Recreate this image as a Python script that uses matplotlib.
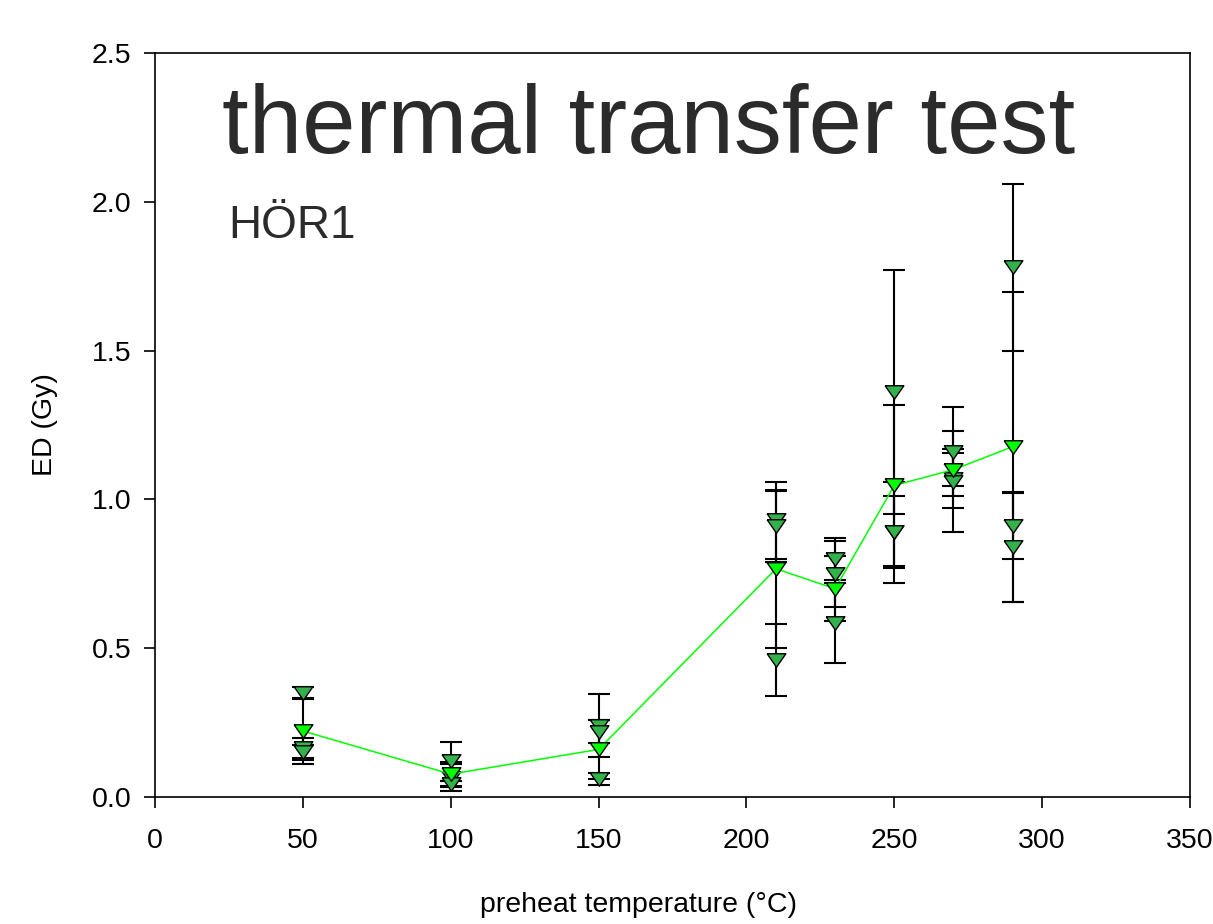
import matplotlib.pyplot as plt

plt.rcParams['font.family'] = ['Liberation Sans', 'DejaVu Sans']

# preheat temperatures (deg C) and single-aliquot ED values (Gy)
temps = [50, 100, 150, 210, 230, 250, 270, 290]
aliquot_ed = [
    [0.35, 0.165, 0.15],
    [0.12, 0.065, 0.045],
    [0.24, 0.22, 0.06],
    [0.93, 0.91, 0.46],
    [0.80, 0.75, 0.585],
    [1.36, 0.89, 0.89],
    [1.16, 1.07, 1.06],
    [1.78, 0.91, 0.84],
]
aliquot_err = [
    [0.02, 0.035, 0.025],
    [0.065, 0.045, 0.01],
    [0.105, 0.04, 0.02],
    [0.13, 0.12, 0.12],
    [0.07, 0.11, 0.135],
    [0.41, 0.12, 0.17],
    [0.15, 0.10, 0.17],
    [0.28, 0.11, 0.185],
]

# mean ED per preheat temperature with standard deviation
mean_ed = [0.222, 0.077, 0.16, 0.767, 0.70, 1.047, 1.10, 1.177]
mean_err = [0.11, 0.04, 0.10, 0.265, 0.11, 0.27, 0.055, 0.52]

# flattened down-triangle marker (wider than tall)
tri = [(-1, 0.72), (1, 0.72), (0, -0.72), (-1, 0.72)]

fig = plt.figure(figsize=(12.13, 9.24), dpi=100)
ax = fig.add_axes([0.1278, 0.1374, 0.8532, 0.8052])

xs, ys, es = [], [], []
for t, vals, errs in zip(temps, aliquot_ed, aliquot_err):
    for v, e in zip(vals, errs):
        xs.append(t)
        ys.append(v)
        es.append(e)

ax.errorbar(xs, ys, yerr=es, fmt='none', ecolor='black', elinewidth=1.5,
            capsize=8, capthick=1.5, zorder=2)
ax.errorbar(temps, mean_ed, yerr=mean_err, fmt='none', ecolor='black',
            elinewidth=1.5, capsize=8, capthick=1.5, zorder=2)
ax.plot(xs, ys, linestyle='none', marker=tri, markersize=13.5,
        markerfacecolor='#33b24c', markeredgecolor='black',
        markeredgewidth=1.0, zorder=3)
ax.plot(temps, mean_ed, color='#00ff00', linewidth=1.1, marker=tri,
        markersize=13.5, markerfacecolor='#00ff00', markeredgecolor='black',
        markeredgewidth=1.0, zorder=4)

ax.set_xlim(0, 350)
ax.set_ylim(0, 2.5)
ax.set_xticks(range(0, 351, 50))
ax.set_yticks([0.0, 0.5, 1.0, 1.5, 2.0, 2.5])
ax.set_yticklabels(['0.0', '0.5', '1.0', '1.5', '2.0', '2.5'])

for side in ['left', 'right', 'top', 'bottom']:
    ax.spines[side].set_linewidth(1.2)
ax.tick_params(axis='both', which='major', direction='out', length=8,
               width=1.2, labelsize=20.5, colors='black')
ax.tick_params(axis='x', pad=14)
ax.tick_params(axis='y', pad=9)

ax.set_xlabel('preheat temperature (°C)', fontsize=20.5)
ax.set_ylabel('ED (Gy)', fontsize=20.5)
ax.xaxis.set_label_coords(0.467, -0.128)
ax.yaxis.set_label_coords(-0.0935, 0.5)

ax.text(22.5, 2.164, 'thermal transfer test', fontsize=69, color='#2b2b2b',
        ha='left', va='baseline')
ax.text(24.7, 1.878, 'HÖR1', fontsize=33, color='#2b2b2b',
        ha='left', va='baseline')

fig.savefig('out.png', dpi=100)
